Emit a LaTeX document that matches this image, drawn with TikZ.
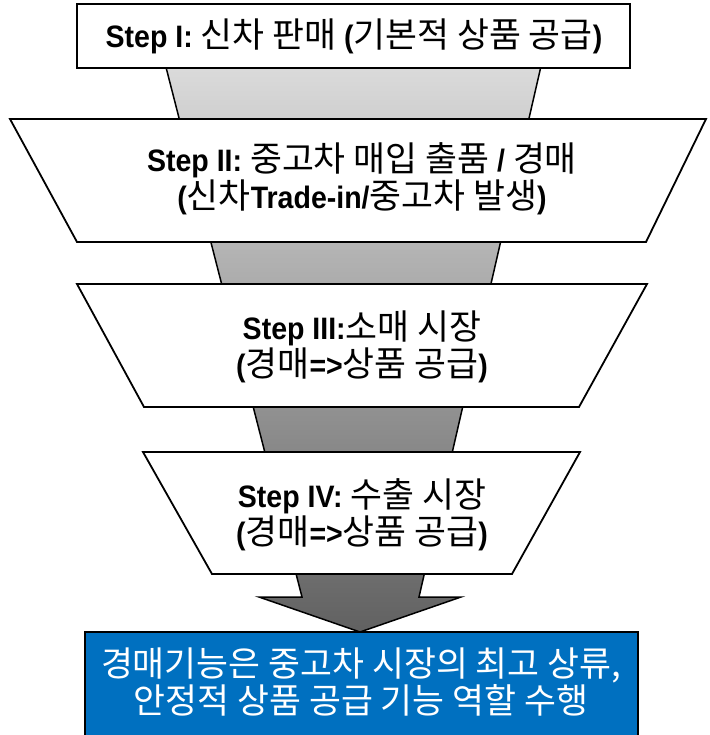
\documentclass[tikz,border=0pt]{standalone}
\usepackage{fontspec}
\setmainfont{Liberation Sans}[FakeStretch=0.92]
\newfontfamily\kr{Noto Sans CJK KR}[Scale=1.12]
\newcommand{\ko}[1]{{\kr #1}}
\usetikzlibrary{positioning}
\definecolor{boxblue}{HTML}{0070C0}

\begin{document}
\begin{tikzpicture}[x=1pt, y=-1pt, line join=miter,
		stage/.style={draw=black, line width=1.8pt, fill=white},
		lbl/.style={align=center, font=\fontsize{31}{37}\selectfont, inner sep=0pt},
		funnel/.style={top color=black!12, bottom color=black!62, draw=black, line width=1.5pt}]
		\useasboundingbox (0,0) rectangle (709,735);
		% funnel and arrow behind the steps
		\draw[funnel] (159,40) -- (302,597) -- (259,597) -- (360,632) -- (461,597) -- (419,597) -- (547,40) -- cycle;
		% steps
		\draw[stage] (77,4) rectangle (630,68);
		\draw[stage] (10,119) -- (706,119) -- (646,242) -- (77,242) -- cycle;
		\draw[stage] (77,284) -- (647,284) -- (579,407) -- (144,407) -- cycle;
		\draw[stage] (143,452) -- (580,452) -- (512,574) -- (212,574) -- cycle;
		\draw[stage, fill=boxblue, line width=1.5pt] (85,632) rectangle (638,740);
		\node[lbl] (s1) at (354,36) {\textbf{Step I:} \ko{신차 판매} \textbf{(}\ko{기본적 상품 공급}\textbf{)}};
		\node[lbl] (s2) at (362,179) {\textbf{Step II:} \ko{중고차 매입 출품} \textbf{/} \ko{경매}\\\textbf{(}\ko{신차}\textbf{Trade-in/}\ko{중고차 발생}\textbf{)}};
		\node[lbl] (s3) at (362,347) {\textbf{Step III:}\ko{소매 시장}\\\textbf{(}\ko{경매}\textbf{=>}\ko{상품 공급}\textbf{)}};
		\node[lbl] (s4) at (362,515) {\textbf{Step IV:} \ko{수출 시장}\\\textbf{(}\ko{경매}\textbf{=>}\ko{상품 공급}\textbf{)}};
		\node[lbl, text=white, font=\fontsize{31}{37}\selectfont\kr] (res) at (361,682) {경매기능은 중고차 시장의 최고 상류,\\안정적 상품 공급 기능 역할 수행};
	\end{tikzpicture}
\end{document}
